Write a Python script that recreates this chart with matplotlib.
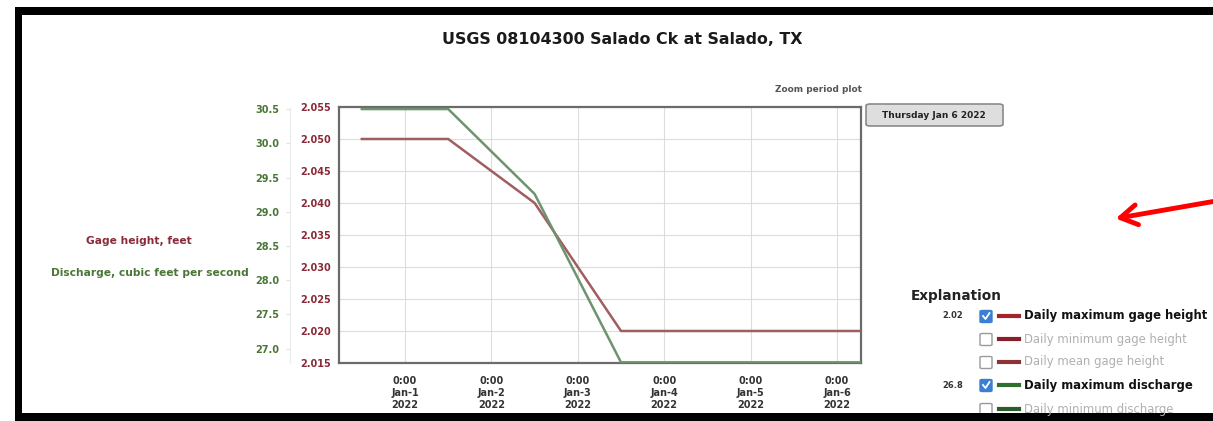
import pandas as pd
import matplotlib.pyplot as plt
from matplotlib.patches import Rectangle, FancyBboxPatch, FancyArrowPatch
from matplotlib.lines import Line2D

W, H = 1213, 421

# ----------------------------
# Data (daily values, plotted at noon)
# ----------------------------
days = pd.to_datetime(["2021-12-31 12:00", "2022-01-01 12:00", "2022-01-02 12:00",
                       "2022-01-03 12:00", "2022-01-04 12:00", "2022-01-05 12:00",
                       "2022-01-06 12:00"])
gage_height = [2.050, 2.050, 2.040, 2.020, 2.020, 2.020, 2.020]
discharge = [30.5, 30.5, 29.26, 26.8, 26.8, 26.8, 26.8]

tick_days = pd.date_range("2022-01-01", "2022-01-06", freq="D")
tick_labels = ["0:00\nJan-%d\n2022" % d.day for d in tick_days]
gage_ticks = [2.015, 2.020, 2.025, 2.030, 2.035, 2.040, 2.045, 2.050, 2.055]
discharge_ticks = [27.0, 27.5, 28.0, 28.5, 29.0, 29.5, 30.0, 30.5]

legend_items = ["Daily maximum gage height", "Daily minimum gage height",
                "Daily mean gage height", "Daily maximum discharge",
                "Daily minimum discharge"]
legend_values = ["2.02", "", "", "26.8", ""]
legend_checked = [True, False, False, True, False]
legend_colors = ["#a3242c", "#8a1c2c", "#8c3434", "#2f6e2f", "#2c5c2c"]

RED = "#a05e60"
GREEN = "#6e936e"
RED_TXT = "#8b2a38"
GREEN_TXT = "#4a7636"


def px(x):
    return x / W


def py(y):
    return 1 - y / H


fig = plt.figure(figsize=(W / 100, H / 100), dpi=100)
fig.patch.set_facecolor("white")

# ----------------------------
# Main axes
# ----------------------------
left, right, top, bottom = 339, 861, 107, 363
ax = fig.add_axes([px(left), py(bottom), px(right - left), (bottom - top) / H])
ax.plot(days, gage_height, color=RED, lw=1.8, zorder=3)
ax.set_ylim(2.015, 2.055)
ax.set_xlim(pd.Timestamp("2021-12-31 05:40"), pd.Timestamp("2022-01-06 06:40"))
ax.set_yticks(gage_ticks)
ax.set_yticklabels(["%.3f" % v for v in gage_ticks])
ax.set_xticks(tick_days)
ax.set_xticklabels(tick_labels, linespacing=1.25)
ax.tick_params(axis="y", length=0, pad=6, labelsize=7, labelcolor=RED_TXT)
ax.tick_params(axis="x", length=0, pad=9, labelsize=7, labelcolor="#333333")
for t in ax.get_yticklabels() + ax.get_xticklabels():
    t.set_fontweight("bold")
ax.grid(True, color="#dddddd", lw=0.8)
for s in ax.spines.values():
    s.set_color("#6b6b6b")
    s.set_linewidth(1.6)

ax2 = ax.twinx()
ax2.plot(days, discharge, color=GREEN, lw=1.8, zorder=3)
ax2.set_ylim(26.79, 30.53)
ax2.set_yticks(discharge_ticks)
ax2.set_yticklabels(["%.1f" % v for v in discharge_ticks])
ax2.yaxis.set_ticks_position("left")
ax2.yaxis.set_label_position("left")
ax2.spines["left"].set_position(("outward", 35))
ax2.spines["left"].set_color("#ececec")
ax2.spines["right"].set_visible(False)
ax2.spines["top"].set_visible(False)
ax2.spines["bottom"].set_visible(False)
ax2.tick_params(axis="y", length=3, color="#e0e0e0", pad=5, labelsize=7,
                labelcolor=GREEN_TXT)
for t in ax2.get_yticklabels():
    t.set_fontweight("bold")

# ----------------------------
# Texts
# ----------------------------
fig.text(px(622), py(40), "USGS 08104300 Salado Ck at Salado, TX", ha="center",
         va="center", fontsize=11.4, fontweight="bold", color="#1a1a1a")
fig.text(px(862), py(90), "Zoom period plot", ha="right", va="center",
         fontsize=6.5, fontweight="bold", color="#555555")
fig.text(px(139), py(241), "Gage height, feet", ha="center", va="center",
         fontsize=7.7, fontweight="bold", color=RED_TXT)
fig.text(px(249), py(273), "Discharge, cubic feet per second", ha="right",
         va="center", fontsize=7.7, fontweight="bold", color=GREEN_TXT)

# date box
fig.patches.append(FancyBboxPatch((px(866), py(126)), px(137), 22 / H,
                                  boxstyle="round,pad=0,rounding_size=0.004",
                                  transform=fig.transFigure, facecolor="#dedede",
                                  edgecolor="#8a8a8a", lw=1.2))
fig.text(px(934), py(115), "Thursday Jan 6 2022", ha="center", va="center",
         fontsize=6.5, fontweight="bold", color="#222222")

# ----------------------------
# Explanation legend
# ----------------------------
fig.text(px(911), py(296), "Explanation", ha="left", va="center",
         fontsize=9.8, fontweight="bold", color="#222222")
row_y = [316, 339, 362, 385, 409]
for y, name, val, chk, col in zip(row_y, legend_items, legend_values,
                                  legend_checked, legend_colors):
    if val:
        fig.text(px(963), py(y), val, ha="right", va="center", fontsize=6,
                 fontweight="bold", color="#333333")
    fig.patches.append(FancyBboxPatch((px(980), py(y + 6.5)), px(12), 12 / H,
                                      boxstyle="round,pad=0,rounding_size=0.002",
                                      transform=fig.transFigure,
                                      facecolor="#3b7fd4" if chk else "white",
                                      edgecolor="#3b7fd4" if chk else "#9a9a9a",
                                      lw=1))
    if chk:
        fig.lines.append(Line2D([px(983), px(985.5), px(989.5)],
                                [py(y), py(y + 3), py(y - 3)],
                                transform=fig.transFigure, color="white", lw=1.3))
    fig.lines.append(Line2D([px(999), px(1019)], [py(y), py(y)],
                            transform=fig.transFigure, color=col, lw=3))
    fig.text(px(1024), py(y), name, ha="left", va="center", fontsize=8.4,
             fontweight="bold" if chk else "normal",
             color="#111111" if chk else "#b0b0b0")

# ----------------------------
# Red arrow
# ----------------------------
fig.patches.append(FancyArrowPatch((px(1216), py(201)), (px(1113), py(219)),
                                   transform=fig.transFigure,
                                   arrowstyle="->,head_length=10,head_width=6",
                                   color="#ff0000", lw=3.5, capstyle="round",
                                   joinstyle="round", mutation_scale=1.2))

# ----------------------------
# Black frame of the screenshot
# ----------------------------
for (x0, y0, x1, y1) in [(15, 7, W, 15), (15, 7, 22, 413), (15, 413, W, H)]:
    fig.patches.append(Rectangle((px(x0), py(y1)), px(x1 - x0), (y1 - y0) / H,
                                 transform=fig.transFigure, facecolor="black",
                                 edgecolor="none"))

fig.savefig("out.png", dpi=100)
